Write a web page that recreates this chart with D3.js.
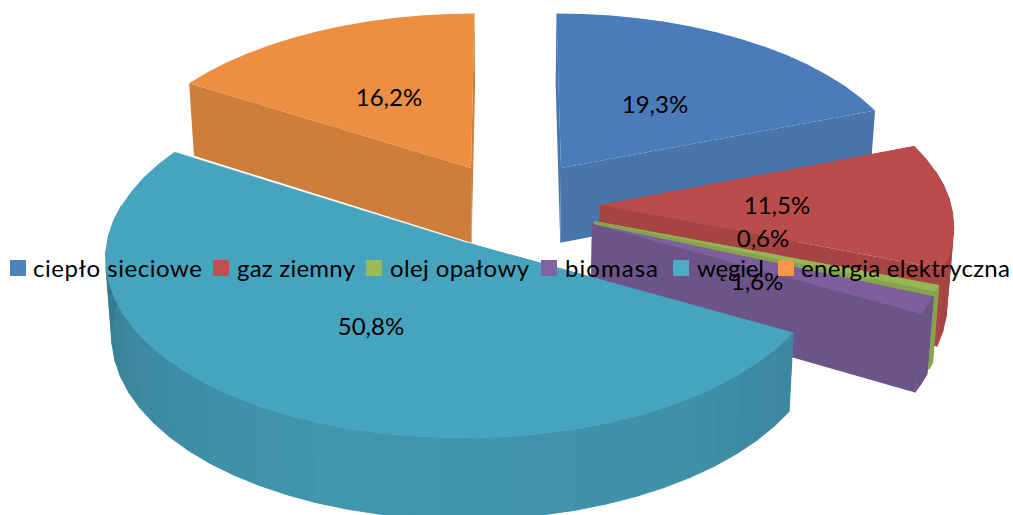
<!DOCTYPE html>
<html><head><meta charset="utf-8">
<script src="https://cdn.jsdelivr.net/npm/d3@7"></script>
<style>html,body{margin:0;padding:0;background:#fff;overflow:hidden}svg{display:block}text{font-family:Lato,"Open Sans",sans-serif;fill:#000}</style>
</head><body><svg id="c" width="1013" height="515"></svg>
<script>
const categories = ["ciepło sieciowe","gaz ziemny","olej opałowy","biomasa","węgiel","energia elektryczna"];
const values = [19.3,11.5,0.6,1.6,50.8,16.2];
const legendColors = ["#4f81bd","#c0504d","#9bbb59","#8064a2","#4bacc6","#f79646"];
const topColors = ["#4a7cb9","#b84d4b","#97b757","#7d5f9e","#47a4bf","#ec8f43"];
const sideColors = ["#4875ac","#a54442","#88a34e","#6c5488","#4296b0","#cc7e3a"];

// Layout of the exploded, perspective pie
const W=1013,H=515,lowerScale=0.985,vanishX=510;
const slices3d=[
 {cx:561,cy:168,R:349,Ry:170,p:0.1},
 {cx:600,cy:205,R:351,Ry:174,p:0.1},
 {cx:594,cy:221,R:353,Ry:173,p:0.1},
 {cx:592,cy:224,R:353,Ry:178,p:0.1},
 {cx:467,cy:242.5,R:360,Ry:180,p:0.08},
 {cx:471,cy:168,R:351,Ry:170,p:0.1}];
const labelPos=[[655,105],[777,206],[763,239],[757,282],[371,327],[389,98]];
const legendLayout=[[10,33,202],[213,237,355],[366,390,529],[541,565,658],[673,697,764],[778,801,1010]];

const svg=d3.select("#c");
const color=d3.scaleOrdinal().domain(categories).range(legendColors);
const pie=d3.pie().sort(null).value(d=>d.v);
const arcs=pie(categories.map((c,i)=>({c,v:values[i]})));
const line=d3.line();

function top3(s,a,r=1){
  const u=Math.sin(a)*r,w=Math.cos(a)*r,f=1/(1+s.p*w);
  return [vanishX+(s.cx-vanishX+s.R*u)*f,s.cy-s.Ry*w*f];
}
function low(p){
  return [vanishX+(p[0]-vanishX)*lowerScale,p[1]+75.5+0.025*(p[1]-200)];
}
const step=Math.PI/36;
function anglesBetween(a0,a1){
  const n=Math.max(2,Math.ceil((a1-a0)/step)),out=[];
  for(let i=0;i<=n;i++)out.push(a0+(a1-a0)*i/n);
  return out;
}
const shade=d3.scaleLinear().domain([118,150,200,240,275]).range([0.9,0.97,1,0.92,0.8]).clamp(true);
function sideColor(i,a){
  if(i!==4)return sideColors[i];
  const c=d3.rgb(sideColors[i]),k=shade(a*180/Math.PI);
  return d3.rgb(c.r*k,c.g*k,c.b*k).formatHex();
}
const poly=pts=>line(pts)+"Z";
[5,0,1,2,3,4].forEach(i=>{
  const d=arcs[i],s=slices3d[i],g=svg.append("g");
  const apex=top3(s,0,0);
  [d.startAngle,d.endAngle].forEach(a=>{
    const e=top3(s,a);
    g.append("path").attr("d",poly([apex,e,low(e),low(apex)])).attr("fill",sideColors[i]);
  });
  const as=anglesBetween(d.startAngle,d.endAngle);
  const vis=[];
  for(let k=0;k<as.length-1;k++){
    if(Math.cos((as[k]+as[k+1])/2)<=0.2)vis.push([as[k],as[k+1]]);
  }
  if(vis.length){
    const tops=[vis[0][0],...vis.map(v=>v[1])].map(a=>top3(s,a));
    g.append("path").attr("d",poly([...tops,...tops.map(low).reverse()])).attr("fill",sideColors[i]);
  }
  vis.forEach(([a0,a1])=>{
    const p0=top3(s,a0),p1=top3(s,a1),c=sideColor(i,(a0+a1)/2);
    g.append("path").attr("d",poly([p0,p1,low(p1),low(p0)])).attr("fill",c).attr("stroke",c).attr("stroke-width",.6);
  });
  const rim=as.map(a=>top3(s,a));
  g.append("path").attr("d",poly([apex,...rim])).attr("fill",topColors[i]);
  if(i===4){
    const e=top3(s,d.endAngle);
    g.append("path").attr("d",line([apex,e])).attr("stroke","#fff").attr("stroke-width",.6).attr("fill","none").attr("opacity",.7);
  }
});

// data labels
const fmt=v=>d3.format(".1f")(v).replace(".",",")+"%";
svg.append("g").selectAll("text").data(values).join("text")
  .attr("x",(v,i)=>labelPos[i][0]).attr("y",(v,i)=>labelPos[i][1]+8)
  .attr("text-anchor","middle").attr("font-size",24).text(fmt);

// legend
const lg=svg.append("g");
categories.forEach((c,i)=>{
  const [sx,tx,te]=legendLayout[i];
  lg.append("rect").attr("x",sx).attr("y",260).attr("width",16).attr("height",16).attr("fill",color(c));
  lg.append("text").attr("x",tx).attr("y",277).attr("font-size",24)
    .attr("textLength",te-tx).attr("lengthAdjust","spacing").text(c);
});
</script></body></html>
